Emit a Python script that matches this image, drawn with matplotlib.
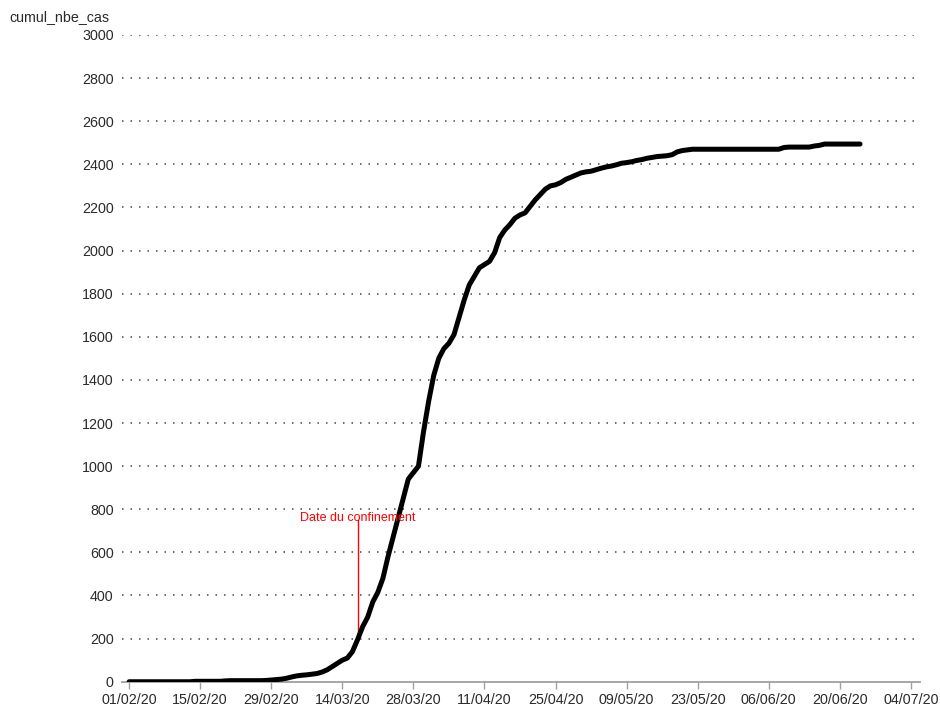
import matplotlib
matplotlib.use("Agg")
import matplotlib.pyplot as plt
import matplotlib.dates as mdates
import pandas as pd
import numpy as np

plt.rcParams['font.family'] = ['Liberation Sans', 'DejaVu Sans']

# ---- data ----
start_date = "2020-02-01"
cumul_nbe_cas = (
    [0] * 13 +                                   # 01/02 - 13/02
    [2, 2, 2, 2, 2, 2] +                          # 14/02 - 19/02
    [4, 5, 5, 5, 5, 5, 5, 5, 6] +                 # 20/02 - 28/02
    [8] +                                         # 29/02
    [10, 12, 16, 22, 27, 30, 32, 35, 38, 45,      # 01/03 - 10/03
     55, 70, 85, 100, 110, 140, 195, 255, 300, 370,   # 11/03 - 20/03
     415, 480, 580, 670, 760, 850, 940, 970, 1000, 1160,  # 21/03 - 30/03
     1300, 1420, 1500, 1545, 1570, 1610, 1690, 1770, 1840, 1880,  # 31/03 - 09/04
     1920, 1935, 1950, 1990, 2060, 2095, 2120, 2150, 2165, 2175,  # 10/04 - 19/04
     2205, 2235, 2260, 2285, 2300, 2305, 2315, 2330, 2340, 2350,  # 20/04 - 29/04
     2360, 2365, 2368, 2375, 2382, 2388, 2392, 2398, 2405, 2408,  # 30/04 - 09/05
     2412, 2418, 2422, 2428, 2432, 2436, 2438, 2440, 2445, 2458,  # 10/05 - 19/05
     2464, 2467] +                                # 20/05 - 21/05
    [2470] * 18 +                                 # 22/05 - 08/06
    [2478, 2480, 2480, 2480, 2480, 2480, 2485, 2488] +  # 09/06 - 16/06
    [2494] * 8                                    # 17/06 - 24/06
)
dates = pd.date_range(start_date, periods=len(cumul_nbe_cas), freq="D")

confinement_date = pd.Timestamp("2020-03-17")
confinement_value = 195
confinement_line_top = 748
confinement_label_value = 732
confinement_label = "Date du confinement"

y_ticks = list(range(0, 3001, 200))
x_tick_dates = pd.date_range("2020-02-01", "2020-07-04", freq="14D")
y_label = "cumul_nbe_cas"

# ---- figure ----
fig = plt.figure(figsize=(9.4, 7.08), dpi=100)
ax = fig.add_axes([0.1298, 0.0371, 0.8489, 0.9135])

ax.plot(dates, cumul_nbe_cas, color="black", linewidth=3.6,
        solid_capstyle="round", solid_joinstyle="round", zorder=3)

# confinement marker
ax.plot([confinement_date, confinement_date],
        [confinement_value, confinement_line_top],
        color="red", linewidth=1.0, zorder=2)
ax.text(confinement_date, confinement_label_value, confinement_label,
        color="red", fontsize=9, ha="center", va="bottom", zorder=4)

ax.set_xlim(pd.Timestamp("2020-02-01") - pd.Timedelta(days=1.4),
            pd.Timestamp("2020-07-04") + pd.Timedelta(days=1.8))
ax.set_ylim(0, 3000)

ax.set_yticks(y_ticks)
ax.set_xticks(x_tick_dates)
ax.xaxis.set_major_formatter(mdates.DateFormatter("%d/%m/%y"))

for yv in y_ticks[1:]:
    ax.axhline(yv, color="#555555", linewidth=1.2, linestyle=(0, (0.9, 4.2)), zorder=1)

for s in ["top", "right", "left"]:
    ax.spines[s].set_visible(False)
ax.spines["bottom"].set_color("#a0a0a0")
ax.spines["bottom"].set_linewidth(1.3)

ax.tick_params(axis="y", length=0, pad=6, labelsize=10.3, labelcolor="#2a2a2a")
ax.tick_params(axis="x", length=5, width=1, color="#a0a0a0", pad=3,
               labelsize=10.3, labelcolor="#2a2a2a")

fig.text(9 / 940, 1 - 17 / 708, y_label, fontsize=10.3, color="#2a2a2a",
         ha="left", va="center")

fig.savefig("out.png", dpi=100)
